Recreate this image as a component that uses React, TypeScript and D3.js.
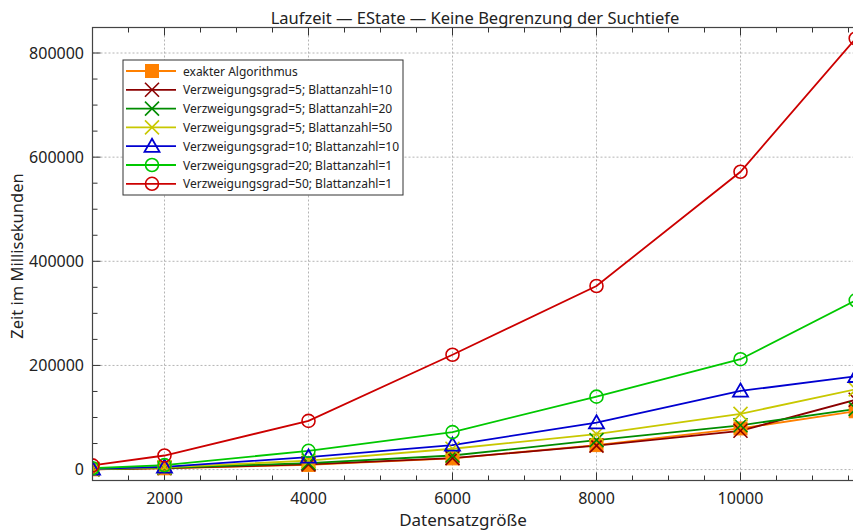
import React from "react";
import * as d3 from "d3";

const xValues = [1000, 2000, 4000, 6000, 8000, 10000, 11600];
const exakt = [500, 2500, 9000, 21500, 47000, 79000, 112000];
const vg5b10 = [600, 2800, 10000, 22000, 46000, 74500, 134000];
const vg5b20 = [800, 3500, 12500, 27000, 56500, 85000, 116500];
const vg5b50 = [1000, 4200, 17000, 40000, 68000, 107000, 154000];
const vg10b10 = [1200, 5000, 24000, 47000, 90000, 151000, 179000];
const vg20b1 = [2500, 8500, 36000, 72000, 140000, 212000, 325000];
const vg50b1 = [8000, 27000, 93500, 220500, 352500, 572000, 828000];

const seriesNames = [
  "exakter Algorithmus",
  "Verzweigungsgrad=5; Blattanzahl=10",
  "Verzweigungsgrad=5; Blattanzahl=20",
  "Verzweigungsgrad=5; Blattanzahl=50",
  "Verzweigungsgrad=10; Blattanzahl=10",
  "Verzweigungsgrad=20; Blattanzahl=1",
  "Verzweigungsgrad=50; Blattanzahl=1",
];
const seriesValues = [exakt, vg5b10, vg5b20, vg5b50, vg10b10, vg20b1, vg50b1];
const seriesColors = ["#ff8000", "#8b0000", "#008c00", "#c8c800", "#0000d0", "#00c800", "#cc0000"];
const seriesMarkers = ["square", "x", "x", "x", "triangle", "circle", "circle"];

const xMajorTicks = [2000, 4000, 6000, 8000, 10000];
const yMajorTicks = [0, 200000, 400000, 600000, 800000];

const W = 853, H = 530;
const L = 92.5, T = 27.5, B = 480.5;
const XMIN = 1000, XMAX = 11700;
const PX_PER_UNIT = 144 / 2000;
const R = L + (XMAX - XMIN) * PX_PER_UNIT;
const FONT = "'Noto Sans', 'Open Sans', sans-serif";

function Marker({ type, x, y, color }: { type: string; x: number; y: number; color: string }) {
  if (type === "square") {
    return <rect x={x - 6.5} y={y - 6.5} width={13} height={13} fill={color} stroke={color} strokeWidth={1} />;
  }
  if (type === "x") {
    const s = 7;
    return (
      <g stroke={color} strokeWidth={1.6}>
        <line x1={x - s} y1={y - s} x2={x + s} y2={y + s} />
        <line x1={x - s} y1={y + s} x2={x + s} y2={y - s} />
      </g>
    );
  }
  if (type === "triangle") {
    const s = 7.5;
    return (
      <path
        d={`M${x},${y - s}L${x + s},${y + s * 0.75}L${x - s},${y + s * 0.75}Z`}
        fill="none"
        stroke={color}
        strokeWidth={1.8}
      />
    );
  }
  return <circle cx={x} cy={y} r={6.5} fill="none" stroke={color} strokeWidth={1.6} />;
}

export default function App() {
  const x = d3.scaleLinear().domain([XMIN, XMAX]).range([L, R]);
  const y = d3.scaleLinear().domain([-21000, 849000]).range([B, T]);
  const line = d3
    .line<number>()
    .x((_, i) => x(xValues[i]))
    .y((d) => y(d));

  const xMinor = d3.range(1000, XMAX + 1, 500);
  const yMinor = d3.range(0, 849000, 50000);

  return (
    <svg width={W} height={H} style={{ position: "absolute", left: 0, top: 0 }} fontFamily={FONT}>
      <defs>
        <clipPath id="plotclip">
          <rect x={L} y={T} width={R - L} height={B - T} />
        </clipPath>
      </defs>
      <rect width={W} height={H} fill="#fff" />
      {/* grid */}
      <g stroke="#b4b4b4" strokeWidth={1} strokeDasharray="2,2">
        {xMajorTicks.map((t) => (
          <line key={"gx" + t} x1={x(t)} x2={x(t)} y1={T} y2={B} />
        ))}
        {yMajorTicks.map((t) => (
          <line key={"gy" + t} x1={L} x2={R} y1={y(t)} y2={y(t)} />
        ))}
      </g>
      {/* ticks */}
      <g stroke="#333" strokeWidth={1}>
        {xMinor.map((t) => {
          const major = xMajorTicks.includes(t);
          const len = major ? 8 : 5;
          return (
            <g key={"tx" + t}>
              <line x1={x(t)} x2={x(t)} y1={B} y2={B - len} />
              <line x1={x(t)} x2={x(t)} y1={T} y2={T + len} />
            </g>
          );
        })}
        {yMinor.map((t) => {
          const major = yMajorTicks.includes(t);
          const len = major ? 8 : 5;
          return (
            <g key={"ty" + t}>
              <line x1={L} x2={L + len} y1={y(t)} y2={y(t)} />
              <line x1={R} x2={R - len} y1={y(t)} y2={y(t)} />
            </g>
          );
        })}
      </g>
      {/* series */}
      <g clipPath="url(#plotclip)">
        {seriesValues.map((vals, si) => (
          <path key={"l" + si} d={line(vals) || ""} fill="none" stroke={seriesColors[si]} strokeWidth={1.8} />
        ))}
        {seriesValues.map((vals, si) => (
          <g key={"m" + si}>
            {vals.map((v, i) => (
              <Marker key={i} type={seriesMarkers[si]} x={x(xValues[i])} y={y(v)} color={seriesColors[si]} />
            ))}
          </g>
        ))}
      </g>
      {/* frame */}
      <rect x={L} y={T} width={R - L} height={B - T} fill="none" stroke="#444" strokeWidth={1.2} />
      {/* tick labels */}
      <g fontSize={16} fill="#222">
        {xMajorTicks.map((t) => (
          <text key={"xl" + t} x={x(t)} y={504} textAnchor="middle">
            {t}
          </text>
        ))}
        {yMajorTicks.map((t) => (
          <text key={"yl" + t} x={84} y={y(t) + 5.5} textAnchor="end">
            {t}
          </text>
        ))}
      </g>
      <text x={475} y={24} textAnchor="middle" fontSize={16.5} fill="#222">
        Laufzeit — EState — Keine Begrenzung der Suchtiefe
      </text>
      <text x={463} y={526} textAnchor="middle" fontSize={17} fill="#222">
        Datensatzgröße
      </text>
      <text transform={`translate(23,256) rotate(-90)`} textAnchor="middle" fontSize={16.5} fill="#222">
        Zeit im Millisekunden
      </text>
      {/* legend */}
      <g>
        <rect x={123} y={60} width={280} height={135} fill="#fff" stroke="#333" strokeWidth={1} />
        {seriesNames.map((name, i) => {
          const yy = 71 + i * 18.8;
          return (
            <g key={"lg" + i}>
              <line x1={126} x2={176} y1={yy} y2={yy} stroke={seriesColors[i]} strokeWidth={1.8} />
              <Marker type={seriesMarkers[i]} x={152} y={yy} color={seriesColors[i]} />
              <text x={183} y={yy + 4.5} fontSize={12} fill="#222">
                {name}
              </text>
            </g>
          );
        })}
      </g>
    </svg>
  );
}
